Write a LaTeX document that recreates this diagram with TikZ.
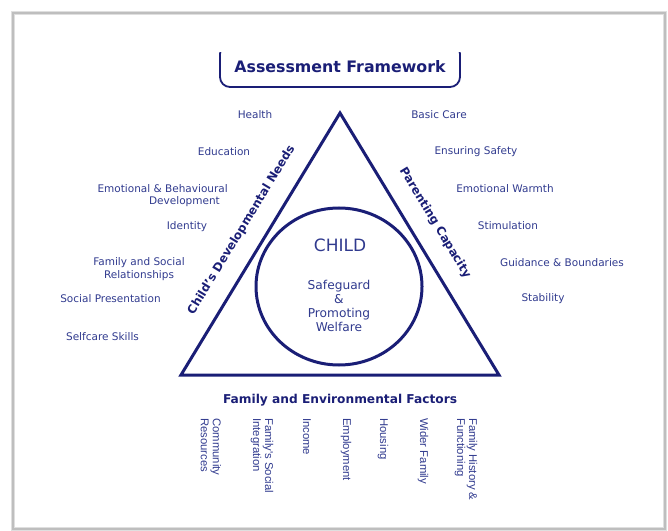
\documentclass[tikz,border=0pt]{standalone}
\usepackage{fontspec}
\usetikzlibrary{shapes.geometric}
\setmainfont{DejaVu Sans}
\newfontfamily\vfont{Liberation Sans}
\definecolor{navy}{RGB}{26,30,118}
\definecolor{txt}{RGB}{48,58,142}
\definecolor{framegray}{RGB}{190,190,190}
\begin{document}
\begin{tikzpicture}[x=1bp,y=-1bp,
  lbl/.style={text=txt, font=\fontsize{10.5bp}{12.6bp}\selectfont, inner sep=0pt, align=center},
  sidelbl/.style={text=navy, font=\bfseries\fontsize{11.8bp}{13bp}\selectfont, inner sep=0pt},
  vlbl/.style={text=txt, font=\vfont\fontsize{11.3bp}{12bp}\selectfont, inner sep=0pt, align=left, rotate=-90, anchor=west},
  heavy/.style={draw=navy, line width=3bp}]
\useasboundingbox (0,0) rectangle (668,531);
% frame with soft shadow
\draw[framegray!50, line width=4bp] (13,13) rectangle (665,529);
\draw[framegray, line width=1.5bp] (13,13) rectangle (665,529);
% title box (open at top)
\begin{scope}
  \clip (200,53) rectangle (480,100);
  \draw[navy, line width=1.8bp, rounded corners=10bp] (220,44) rectangle (460,87);
\end{scope}
\node[text=navy, font=\bfseries\fontsize{15.8bp}{18bp}\selectfont, inner sep=0pt] (title) at (340,67) {Assessment Framework};
% triangle
\coordinate (A) at (340,113);
\coordinate (B) at (181,375);
\coordinate (C) at (499,375);
\draw[heavy, line join=miter] (A) -- (B) -- (C) -- cycle;
% circle
\node[heavy, ellipse, minimum width=166bp, minimum height=157bp, inner sep=0pt] (circ) at (339,286.5) {};
\node[text=txt, font=\fontsize{17bp}{20bp}\selectfont, inner sep=0pt] (child) at (340,245) {CHILD};
\node[text=txt, font=\fontsize{12.2bp}{14bp}\selectfont, inner sep=0pt, align=center] (safe) at (339,306) {Safeguard\\\&\\Promoting\\Welfare};
% side labels
\node[sidelbl, rotate=58.75] (cdn) at (241.5,230.2) {Child's Developmental Needs};
\node[sidelbl, rotate=-58.75] (pc) at (435,223) {Parenting Capacity};
\node[text=navy, font=\bfseries\fontsize{12.2bp}{14bp}\selectfont, inner sep=0pt] (fef) at (340,400) {Family and Environmental Factors};
% left labels
\node[lbl] (health) at (255,115) {Health};
\node[lbl] (edu) at (224,152) {Education};
\node[lbl, align=right, anchor=east] (emo) at (228,195.5) {Emotional \& Behavioural\\Development\hspace*{8bp}};
\node[lbl] (ident) at (187,227) {Identity};
\node[lbl] (fsr) at (139,269) {Family and Social\\Relationships};
\node[lbl] (socp) at (110.5,299) {Social Presentation};
\node[lbl] (self) at (102.5,337) {Selfcare Skills};
% right labels
\node[lbl] (basic) at (439,115) {Basic Care};
\node[lbl] (safety) at (476,152) {Ensuring Safety};
\node[lbl] (warm) at (505,189) {Emotional Warmth};
\node[lbl] (stim) at (508,226) {Stimulation};
\node[lbl] (guid) at (562,263) {Guidance \& Boundaries};
\node[lbl] (stab) at (543,299) {Stability};
% vertical labels
\node[vlbl] (comm) at (211,418) {Community\\Resources};
\node[vlbl] (fsi) at (262,418) {Family's Social\\Integration};
\node[vlbl] (inc) at (307,418) {Income};
\node[vlbl] (emp) at (346,418) {Employment};
\node[vlbl] (hous) at (383,418) {Housing};
\node[vlbl] (wider) at (423,418) {Wider Family};
\node[vlbl] (fhf) at (466,418) {Family History \&\\Functioning};
\end{tikzpicture}
\end{document}
